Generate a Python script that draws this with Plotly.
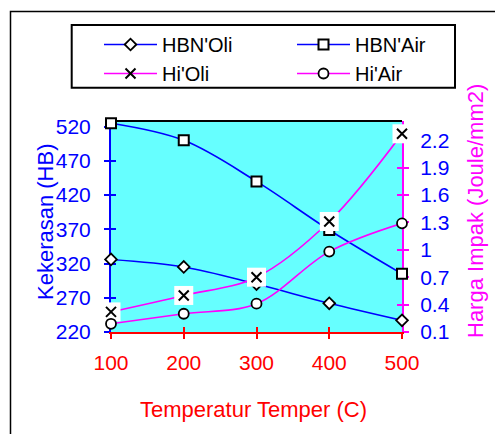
import plotly.graph_objects as go

# ---- data ----
temps = [100, 200, 300, 400, 500]
hbn_oli = [326, 315, 290, 262, 237]
hbn_air = [525, 500, 440, 369, 305]
hi_oli = [0.32, 0.50, 0.70, 1.31, 2.27]
hi_air = [0.19, 0.30, 0.41, 0.98, 1.29]
left_ticks = [220, 270, 320, 370, 420, 470, 520]
right_ticks = [0.1, 0.4, 0.7, 1.0, 1.3, 1.6, 1.9, 2.2]
right_ticktext = ["0.1", "0.4", "0.7", "1", "1.3", "1.6", "1.9", "2.2"]
x_ticks = [100, 200, 300, 400, 500]

BLUE = "#0000FF"
MAG = "#FF00FF"
RED = "#FF0000"
FONT = "Arial, Liberation Sans, sans-serif"
X_RANGE = [100, 500]
L_RANGE = [220, 528.3]
R_RANGE = [0.1, 2.41]

W, H = 495, 434
L, R, T, B = 111, 93, 121, 102
PW, PH = W - L - R, H - T - B


def px(xp):
    return (xp - L) / PW


def py(yp):
    return (H - B - yp) / PH


fig = go.Figure()
line_kw = dict(shape="spline", smoothing=1, width=1.6)

fig.add_trace(go.Scatter(
    x=temps, y=hbn_oli, name="HBN'Oli", mode="lines+markers",
    line=dict(color=BLUE, **line_kw),
    marker=dict(symbol="diamond", size=9, color="white", line=dict(color="black", width=1.8)),
    cliponaxis=False, yaxis="y"))
fig.add_trace(go.Scatter(
    x=temps, y=hbn_air, name="HBN'Air", mode="lines+markers",
    line=dict(color=BLUE, **line_kw),
    marker=dict(symbol="square", size=10, color="white", line=dict(color="black", width=2)),
    cliponaxis=False, yaxis="y"))
# legend entry for Hi'Oli
fig.add_trace(go.Scatter(
    x=[None], y=[None], name="Hi'Oli", mode="lines+markers",
    line=dict(color=MAG, width=1.6),
    marker=dict(symbol="x-thin", size=10, color="black", line=dict(color="black", width=2)),
    yaxis="y2"))
fig.add_trace(go.Scatter(
    x=temps, y=hi_oli, mode="lines", showlegend=False,
    line=dict(color=MAG, **line_kw), cliponaxis=False, yaxis="y2"))
fig.add_trace(go.Scatter(
    x=temps, y=hi_oli, mode="markers", showlegend=False,
    marker=dict(symbol="square", size=19, color="white", line=dict(width=0)),
    cliponaxis=False, yaxis="y2"))
fig.add_trace(go.Scatter(
    x=temps, y=hi_oli, mode="markers", showlegend=False,
    marker=dict(symbol="x-thin", size=10, color="black", line=dict(color="black", width=2)),
    cliponaxis=False, yaxis="y2"))
fig.add_trace(go.Scatter(
    x=temps, y=hi_air, name="Hi'Air", mode="lines+markers",
    line=dict(color=MAG, **line_kw),
    marker=dict(symbol="circle", size=10, color="white", line=dict(color="black", width=1.8)),
    cliponaxis=False, yaxis="y2"))
# empty traces so the overlay tick axes are drawn
fig.add_trace(go.Scatter(x=[None], y=[None], xaxis="x2", yaxis="y", showlegend=False, hoverinfo="skip"))
fig.add_trace(go.Scatter(x=[None], y=[None], xaxis="x", yaxis="y3", showlegend=False, hoverinfo="skip"))
fig.add_trace(go.Scatter(x=[None], y=[None], xaxis="x", yaxis="y4", showlegend=False, hoverinfo="skip"))

TICK_SIZE = 21
TITLE_SIZE = 22

fig.update_layout(
    width=W, height=H,
    margin=dict(l=L, r=R, t=T, b=B, autoexpand=False),
    paper_bgcolor="white", plot_bgcolor="#66FFFF",
    font=dict(family=FONT, size=20, color="black"),
    showlegend=True,
    legend=dict(orientation="h", x=px(99), y=py(25), xanchor="left", yanchor="top",
                bgcolor="rgba(0,0,0,0)", borderwidth=0, itemwidth=53,
                entrywidth=125, entrywidthmode="pixels", traceorder="normal",
                font=dict(family=FONT, size=20, color="black")),
    xaxis=dict(range=X_RANGE, tickvals=x_ticks, showgrid=False, zeroline=False,
               showline=True, linecolor=RED, linewidth=2, ticks="outside", ticklen=5,
               tickcolor=RED, tickwidth=2, tickfont=dict(color=RED, size=TICK_SIZE),
               ticklabelstandoff=6, layer="below traces"),
    xaxis2=dict(range=X_RANGE, overlaying="x", anchor="y", side="bottom", tickvals=x_ticks,
                showgrid=False, zeroline=False, showline=False, ticks="inside", ticklen=5,
                tickcolor=RED, tickwidth=2, showticklabels=False, layer="below traces"),
    yaxis=dict(range=L_RANGE, tickvals=left_ticks, showgrid=False, zeroline=False,
               showline=True, linecolor=BLUE, linewidth=2, ticks="outside", ticklen=5,
               tickcolor=BLUE, tickwidth=2, tickfont=dict(color=BLUE, size=TICK_SIZE),
               ticklabelstandoff=9, layer="below traces"),
    yaxis2=dict(range=R_RANGE, overlaying="y", side="right", anchor="x", tickvals=right_ticks,
                ticktext=right_ticktext, showgrid=False, zeroline=False,
                showline=True, linecolor=MAG, linewidth=2, ticks="outside", ticklen=5,
                tickcolor=MAG, tickwidth=2, tickfont=dict(color=BLUE, size=TICK_SIZE),
                ticklabelstandoff=7, layer="below traces"),
    yaxis3=dict(range=L_RANGE, overlaying="y", side="left", anchor="x", tickvals=left_ticks,
                showgrid=False, zeroline=False, showline=False, ticks="inside", ticklen=5,
                tickcolor=BLUE, tickwidth=2, showticklabels=False, layer="below traces"),
    yaxis4=dict(range=R_RANGE, overlaying="y", side="right", anchor="x", tickvals=right_ticks,
                showgrid=False, zeroline=False, showline=False, ticks="inside", ticklen=5,
                tickcolor=MAG, tickwidth=2, showticklabels=False, layer="below traces"),
    shapes=[
        # outer chart border (extends past the picture on right/bottom)
        dict(type="rect", xref="paper", yref="paper", x0=px(10.5), x1=px(520), y0=py(460), y1=py(11.5),
             line=dict(color="black", width=1.5), fillcolor="rgba(0,0,0,0)", layer="below"),
        # legend box
        dict(type="rect", xref="paper", yref="paper", x0=px(71.7), x1=px(455), y0=py(87.7), y1=py(25),
             line=dict(color="black", width=2), fillcolor="white", layer="below"),
        # top border of the plot area
        dict(type="line", xref="paper", yref="paper", x0=0, x1=1, y0=1, y1=1,
             line=dict(color="black", width=2), layer="below"),
    ],
    annotations=[
        dict(text="Kekerasan (HB)", xref="paper", yref="paper", x=px(45), y=py(222),
             textangle=-90, showarrow=False, xanchor="center", yanchor="middle",
             font=dict(family=FONT, size=TITLE_SIZE, color=BLUE)),
        dict(text="Harga Impak (Joule/mm2)", xref="paper", yref="paper", x=px(475), y=py(340),
             textangle=-90, showarrow=False, xanchor="center", yanchor="bottom",
             font=dict(family=FONT, size=TITLE_SIZE, color=MAG)),
        dict(text="Temperatur Temper (C)", xref="paper", yref="paper", x=px(253.5), y=py(409),
             showarrow=False, xanchor="center", yanchor="middle",
             font=dict(family=FONT, size=TITLE_SIZE, color=RED)),
    ],
)

fig.write_html("out.html")
